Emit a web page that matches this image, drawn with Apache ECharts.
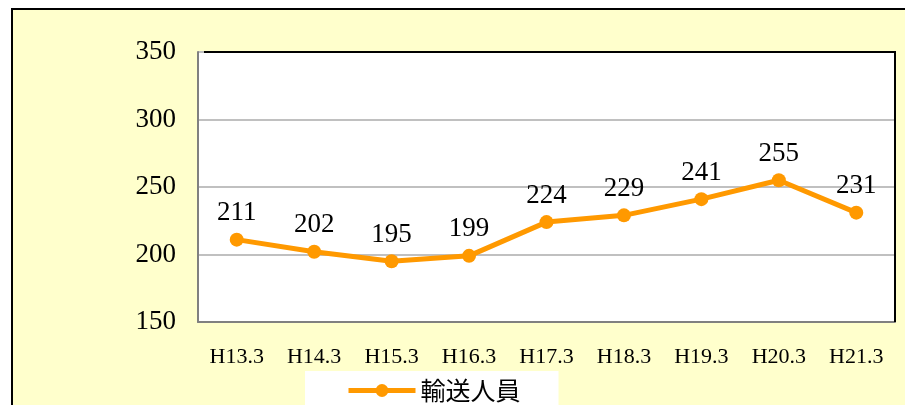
<!DOCTYPE html>
<html><head><meta charset="utf-8">
<script src="https://cdn.jsdelivr.net/npm/echarts@6/dist/echarts.min.js"></script>
<style>html,body{margin:0;padding:0;background:#fff}#c{width:905px;height:405px}</style>
</head><body><div id="c"></div>
<script>
const categories = ['H13.3','H14.3','H15.3','H16.3','H17.3','H18.3','H19.3','H20.3','H21.3'];
const values = [211,202,195,199,224,229,241,255,231];
const seriesName = '輸送人員';
const yMin = 150, yMax = 350, yStep = 50;

const chart = echarts.init(document.getElementById('c'), null, {renderer:'canvas'});
chart.setOption({
  backgroundColor:'#ffffff',
  animation:false,
  graphic:[
    {type:'rect', z:-10, shape:{x:12,y:9,width:920,height:420}, style:{fill:'#FFFFCC', stroke:'#000', lineWidth:2}},
    {type:'polyline', z:10, shape:{points:[[204,52],[895,52],[895,322]]}, style:{stroke:'#000', lineWidth:2, fill:null}}
  ],
  grid:{left:198, top:52, width:697, height:270, show:true, backgroundColor:'#ffffff', borderWidth:0},
  legend:{
    left:305, top:371, padding:[7,38,10,41], backgroundColor:'#ffffff',
    itemWidth:67, itemHeight:16, itemGap:8,
    lineStyle:{width:5},
    textStyle:{fontFamily:'Noto Sans CJK JP', fontSize:25, color:'#000'},
    data:[seriesName]
  },
  xAxis:{
    type:'category', data:categories, boundaryGap:true,
    axisLine:{lineStyle:{color:'#808080', width:2}},
    axisTick:{inside:true, length:5, lineStyle:{color:'#c0c0c0'}},
    axisLabel:{fontFamily:'Liberation Serif', fontSize:22, color:'#000', margin:24}
  },
  yAxis:{
    type:'value', min:yMin, max:yMax, interval:yStep,
    axisLine:{show:true, lineStyle:{color:'#808080', width:2}},
    axisTick:{show:false},
    splitLine:{lineStyle:{color:'#c0c0c0', width:2}},
    axisLabel:{fontFamily:'Liberation Serif', fontSize:27, color:'#000', margin:22}
  },
  series:[{
    name:seriesName, type:'line', data:values,
    lineStyle:{color:'#FF9900', width:5},
    itemStyle:{color:'#FF9900'},
    symbol:'circle', symbolSize:14,
    label:{show:true, position:'top', distance:6, fontFamily:'Liberation Serif', fontSize:27, color:'#000'}
  }]
});
</script></body></html>
